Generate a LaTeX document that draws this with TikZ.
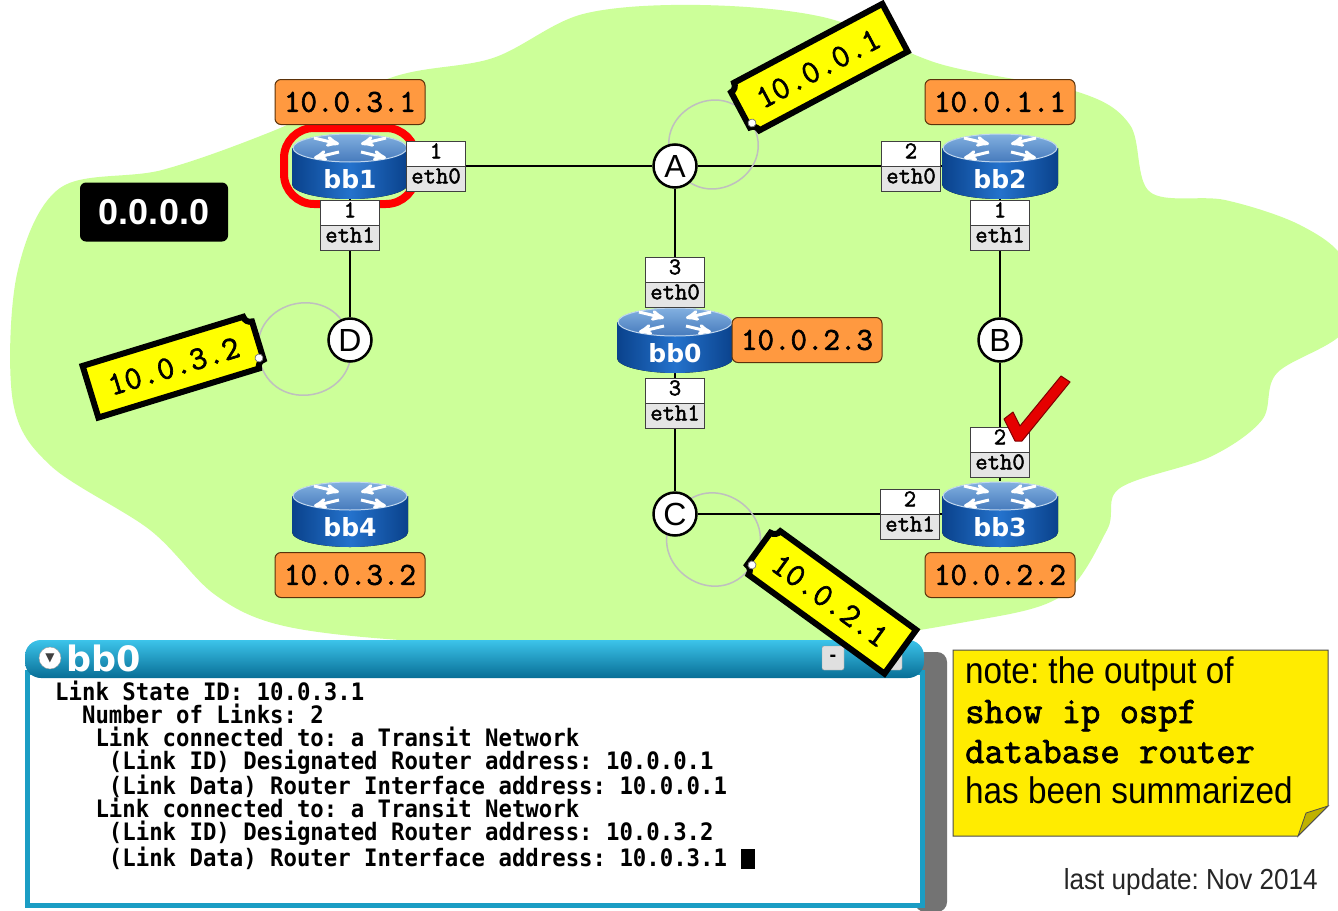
\documentclass[tikz,border=0pt]{standalone}
\usepackage{fontspec}
\setmainfont{Liberation Sans}
\newfontfamily\monofont{Liberation Mono}
\newfontfamily\termfont[FakeStretch=0.93]{DejaVu Sans Mono}
\newfontfamily\iconfont{DejaVu Sans}
\newfontfamily\notefont[FakeStretch=0.9]{Liberation Sans}
\newfontfamily\courier[FakeBold=2]{Latin Modern Mono}
\usepackage{tikz}
\usetikzlibrary{arrows,positioning,shapes.multipart}
\frenchspacing

\pgfdeclarelayer{cloud}
\pgfdeclarelayer{back}
\pgfsetlayers{cloud,back,main}

\definecolor{cloudgreen}{RGB}{204,255,153}
\definecolor{iporange}{RGB}{255,153,64}
\definecolor{ipedge}{RGB}{90,50,10}
\definecolor{tagyellow}{RGB}{255,255,0}
\definecolor{noteyellow}{RGB}{255,236,0}
\definecolor{wintop}{RGB}{60,196,234}
\definecolor{winbot}{RGB}{8,110,150}
\definecolor{winedge}{RGB}{27,157,196}
\definecolor{rtop}{RGB}{130,176,224}
\definecolor{rtopdk}{RGB}{70,122,188}
\definecolor{rbody}{RGB}{10,66,140}
\definecolor{rbodymid}{RGB}{36,114,204}

% router icon, drawn behind the router node
\newcommand{\routericon}[1]{%
  \begin{scope}[shift={(#1.center)}]
    \fill[left color=rbody, right color=rbody, middle color=rbodymid]
      (-58,-18) -- (-58,18) arc[start angle=180, end angle=0, x radius=58, y radius=15]
      -- (58,-18) -- cycle;
    \fill[top color=rtop, bottom color=rtopdk, draw=rtop!50!white, line width=1pt]
      (0,-18) ellipse[x radius=57, y radius=14];
    \draw[white, line width=3pt, ->] (-36,-28) -- (-11,-22);
    \draw[white, line width=3pt, ->] (36,-28) -- (11,-22);
    \draw[white, line width=3pt, ->] (-11,-14) -- (-36,-8);
    \draw[white, line width=3pt, ->] (11,-14) -- (36,-8);
  \end{scope}}

% ip tag: name, hole, angle, side, text angle, text
\newcommand{\iptag}[6]{%
  \begin{scope}[shift={(#2)}, rotate=#3, yscale=#4]
    \draw[tag body] (-4,3) -- (-4,-37) arc[start angle=90, end angle=0, radius=7]
      -- (171,-44) -- (171,10) -- (3,10) arc[start angle=0, end angle=-90, radius=7] -- cycle;
    \node[tag text, rotate=#5] (#1) at (84,-17) {#6};
    \coordinate (#1 hole) at (0,0);
    \filldraw[fill=white, draw=gray, line width=0.8pt] (0,0) circle[radius=4];
  \end{scope}}

\begin{document}
\begin{tikzpicture}[x=1pt, y=-1pt, >=stealth', node distance=174pt and 325pt, on grid,
  router node/.style={minimum width=116pt, minimum height=66pt, inner sep=0pt,
    text height=44pt, text depth=0pt, text=white,
    font=\iconfont\bfseries\fontsize{25}{25}\selectfont},
  net node/.style={circle, draw, line width=2.5pt, fill=white, minimum size=43pt,
    inner sep=0pt, font=\fontsize{32}{32}\selectfont},
  ip node/.style={draw=ipedge, fill=iporange, rounded corners=6pt, line width=1pt,
    minimum width=150pt, minimum height=45pt, inner sep=0pt,
    font=\courier\fontsize{32}{32}\selectfont},
  if node/.style={rectangle split, rectangle split parts=2, draw=black!75, line width=1pt,
    rectangle split part fill={white,black!10}, minimum width=59pt, inner sep=0pt,
    font=\courier\fontsize{24}{24}\selectfont},
  area node/.style={fill=black, rounded corners=6pt, minimum width=148pt, minimum height=59pt,
    text=white, font=\bfseries\fontsize{36}{36}\selectfont},
  link/.style={draw, line width=2.5pt},
  ring/.style={draw=red, line width=8pt, rounded corners=30pt},
  tag body/.style={fill=tagyellow, draw=black, line width=6pt},
  tag text/.style={inner sep=0pt, font=\courier\fontsize{33}{33}\selectfont},
  tag string/.style={draw=black!25, line width=1.5pt},
  check/.style={fill=red!90!black, draw=red!50!black, line width=1pt, line join=round},
  win button/.style={fill=black!12, draw=black!40, rounded corners=2pt, minimum width=22pt,
    minimum height=24pt, inner sep=0pt, font=\bfseries\fontsize{20}{20}\selectfont},
  term text/.style={align=left, inner sep=0pt,
    font=\termfont\bfseries\fontsize{24}{22.9}\selectfont},
  note text/.style={align=left, inner sep=0pt, font=\notefont\fontsize{37}{40}\selectfont}]

  \useasboundingbox (0,0) rectangle (1338,910);

  \begin{pgfonlayer}{cloud}
    \fill[white] (0,0) rectangle (1338,910);
    \fill[cloudgreen] plot[smooth cycle, tension=0.55] coordinates {
      (13,402) (17,274) (60,188) (162,170) (273,131) (393,77) (493,58) (583,14)
      (700,5) (827,18) (940,64) (1078,92) (1130,125) (1150,192) (1225,200)
      (1300,225) (1345,262) (1345,330) (1277,373) (1262,420) (1210,457) (1120,488)
      (1107,530) (1060,597) (960,623) (800,645) (600,648) (400,640) (280,625)
      (214,594) (150,530) (51,466)};
  \end{pgfonlayer}

  % routers and networks
  \node[router node] (bb0) at (675,340) {bb0};
  \node[net node] (A) [above=of bb0] {A};
  \node[net node] (C) [below=of bb0] {C};
  \node[router node] (bb1) [left=of A] {bb1};
  \node[router node] (bb2) [right=of A] {bb2};
  \node[net node] (D) [below=of bb1] {D};
  \node[net node] (B) [below=of bb2] {B};
  \node[router node] (bb3) [below=of B] {bb3};
  \node[router node] (bb4) [below=of D] {bb4};

  \draw[ring] ([shift={(-66,-38)}]bb1.center) rectangle ([shift={(66,38)}]bb1.center);

  \node[ip node] (ip bb1) [above=64pt of bb1] {10.0.3.1};
  \node[ip node] (ip bb2) [above=64pt of bb2] {10.0.1.1};
  \node[ip node] (ip bb0) [right=132pt of bb0] {10.0.2.3};
  \node[ip node] (ip bb3) [below=61pt of bb3] {10.0.2.2};
  \node[ip node] (ip bb4) [below=61pt of bb4] {10.0.3.2};

  \node[if node] (bb1 eth0) [right=86pt of bb1] {\strut 1\nodepart{two}\strut eth0};
  \node[if node] (bb1 eth1) [below=59pt of bb1] {\strut 1\nodepart{two}\strut eth1};
  \node[if node] (bb2 eth0) [left=89pt of bb2] {\strut 2\nodepart{two}\strut eth0};
  \node[if node] (bb2 eth1) [below=59pt of bb2] {\strut 1\nodepart{two}\strut eth1};
  \node[if node] (bb0 eth0) [above=58pt of bb0] {\strut 3\nodepart{two}\strut eth0};
  \node[if node] (bb0 eth1) [below=63pt of bb0] {\strut 3\nodepart{two}\strut eth1};
  \node[if node] (bb3 eth0) [above=62pt of bb3] {\strut 2\nodepart{two}\strut eth0};
  \node[if node] (bb3 eth1) [left=90pt of bb3] {\strut 2\nodepart{two}\strut eth1};

  \node[area node] (area) at (154,212) {0.0.0.0};

  \filldraw[check] (1004,419) -- (1013,412) -- (1020,426) -- (1061,376) -- (1070,382)
    -- (1022,441) -- (1015,441) -- cycle;

  % show ip ospf window
  \fill[black!55, rounded corners=10pt] (915,652) rectangle (947,912);
  \filldraw[fill=white, draw=winedge, line width=5pt] (27,672) rectangle (922,905);
  \shade[top color=wintop, bottom color=winbot, rounded corners=16pt] (25,640) rectangle (924,678);
  \node[circle, fill=white, draw=black!40, minimum size=22pt, inner sep=0pt,
    font=\iconfont\fontsize{12}{12}\selectfont, text=black!75] (win menu) at (50,658) {▼};
  \node[anchor=west, inner sep=0pt, text=white, font=\iconfont\bfseries\fontsize{35}{35}\selectfont]
    (win title) at (66,658) {bb0};
  \node[win button] (win min) at (833,658) {-};
  \node[win button] (win close) at (891,658) {x};
  \node[term text, anchor=north west] (term) at (55,681) {Link State ID: 10.0.3.1\\
    ~~Number of Links: 2\\
    ~~~Link connected to: a Transit Network\\
    ~~~~(Link ID) Designated Router address: 10.0.0.1\\
    ~~~~(Link Data) Router Interface address: 10.0.0.1\\
    ~~~Link connected to: a Transit Network\\
    ~~~~(Link ID) Designated Router address: 10.0.3.2\\
    ~~~~(Link Data) Router Interface address: 10.0.3.1~\rule[-3pt]{14pt}{20pt}};

  % note
  \filldraw[fill=noteyellow, draw=black!70, line width=1pt]
    (953,650) -- (1328,650) -- (1328,806) -- (1298,836) -- (953,836) -- cycle;
  \filldraw[fill=noteyellow!75!black, draw=black!70, line width=0.8pt]
    (1328,806) -- (1298,836) -- (1306,813) -- cycle;
  \node[note text, anchor=north west] (note) at (965,656) {note: the output of\\
    {\courier\fontsize{37.5}{40}\selectfont show ip ospf}\\
    {\courier\fontsize{37.5}{40}\selectfont database router}\\
    has been summarized};
  \node[anchor=base east, inner sep=0pt, text=black!85, font=\notefont\fontsize{29}{29}\selectfont]
    (update) at (1318,889) {last update: Nov 2014};

  % designated router tags
  \iptag{tagA}{752,123}{28}{1}{28}{10.0.0.1}
  \iptag{tagD}{259,358}{197}{-1}{17}{10.0.3.2}
  \iptag{tagC}{752,565}{-36}{1}{-36}{10.0.2.1}

  \begin{pgfonlayer}{back}
    \path[every edge/.style={link}]
      (bb1) edge (A)
      (A) edge (bb2)
      (A) edge (bb0)
      (bb0) edge (C)
      (C) edge (bb3)
      (bb2) edge (B)
      (B) edge (bb3)
      (bb1) edge (D);
    \draw[tag string] (A.center) to[bend left=90, looseness=1.7] (tagA hole)
      to[bend left=90, looseness=1.7] (A.center);
    \draw[tag string] (D.center) to[bend left=90, looseness=1.7] (tagD hole)
      to[bend left=90, looseness=1.7] (D.center);
    \draw[tag string] (C.center) to[bend left=90, looseness=1.7] (tagC hole)
      to[bend left=90, looseness=1.7] (C.center);
    \foreach \r in {bb0,bb1,bb2,bb3,bb4}
      \routericon{\r};
  \end{pgfonlayer}
\end{tikzpicture}
\end{document}
